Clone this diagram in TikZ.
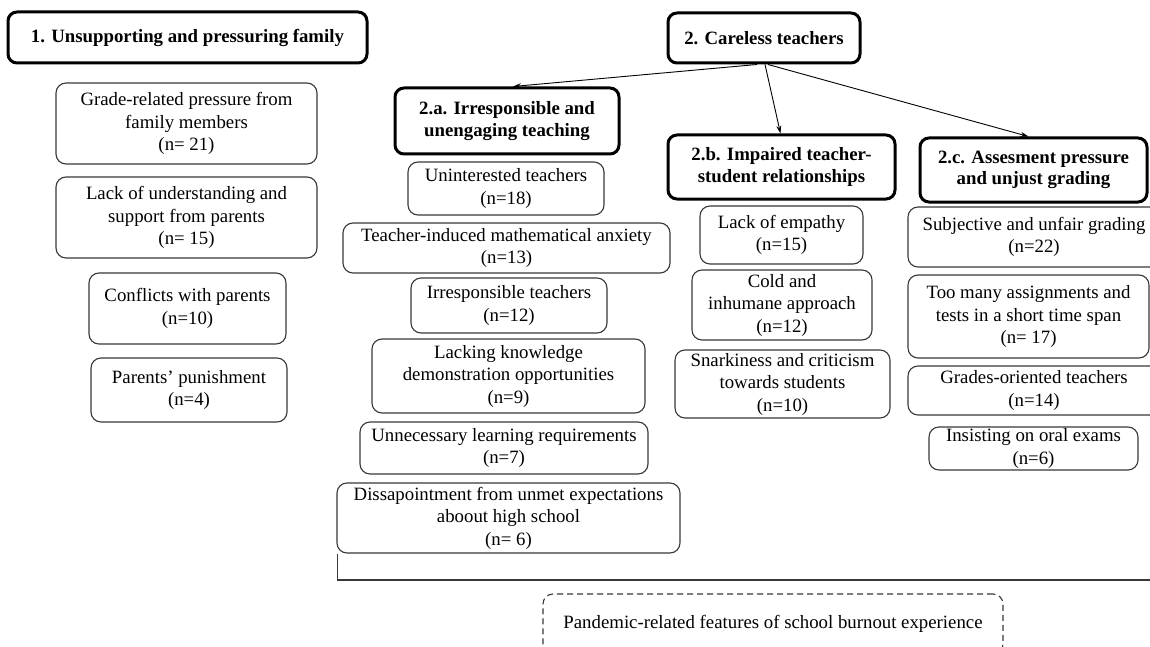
\documentclass[tikz,border=0pt]{standalone}
\usepackage{fontspec}
\setmainfont{Liberation Serif}
\usetikzlibrary{arrows.meta}
\begin{document}
\begin{tikzpicture}[x=1pt,y=-1pt,
  font=\fontsize{18.8}{22.5}\selectfont,
  box/.style={draw=black!78, line width=1.1pt, rounded corners=10pt, align=center, inner sep=0pt},
  head/.style={draw=black, line width=3pt, rounded corners=9pt, align=center, inner sep=0pt,
    font=\fontsize{18.8}{21.5}\selectfont\bfseries},
  dashbox/.style={draw=black!78, dash pattern=on 6pt off 4pt, line width=1.1pt, rounded corners=10pt, align=center, inner sep=0pt},
  arr/.style={-{Stealth[length=8pt,width=5pt]}, line width=0.9pt}]
\fill[white] (0,0) rectangle (1150,647);
\clip (0,0) rectangle (1150,647);
% headings
\node[head, minimum width=359pt, minimum height=51pt] (h1) at (187.5,37.5) {1. Unsupporting and pressuring family};
\node[head, minimum width=192pt, minimum height=50pt] (h2) at (764,38) {2. Careless teachers};
\node[head, minimum width=224pt, minimum height=66pt] (h2a) at (507,121) {2.a. Irresponsible and\\unengaging teaching};
\node[head, minimum width=227pt, minimum height=64pt] (h2b) at (781.5,167) {2.b. Impaired teacher-\\student relationships};
\node[head, minimum width=227pt, minimum height=64pt] (h2c) at (1033.5,170) {2.c. Assesment pressure\\and unjust grading};
% family column
\node[box, minimum width=261pt, minimum height=81pt] (f1) at (186.5,123.5) {Grade-related pressure from\\family members\\(n= 21)};
\node[box, minimum width=261pt, minimum height=81pt] (f2) at (186.5,217.5) {Lack of understanding and\\support from parents\\(n= 15)};
\node[box, minimum width=197pt, minimum height=71pt] (f3) at (187.5,308.5) {Conflicts with parents\\(n=10)};
\node[box, minimum width=196pt, minimum height=64pt] (f4) at (189,390) {Parents’ punishment\\(n=4)};
% 2.a column
\node[box, minimum width=196pt, minimum height=53pt] (a1) at (506,188.5) {Uninterested teachers\\(n=18)};
\node[box, minimum width=327pt, minimum height=50pt] (a2) at (506.5,248) {Teacher-induced mathematical anxiety\\(n=13)};
\node[box, minimum width=196pt, minimum height=55pt] (a3) at (509,305.5) {Irresponsible teachers\\(n=12)};
\node[box, minimum width=273pt, minimum height=74pt] (a4) at (508.5,376) {Lacking knowledge\\demonstration opportunities\\(n=9)};
\node[box, minimum width=288pt, minimum height=52pt] (a5) at (504,448) {Unnecessary learning requirements\\(n=7)};
\node[box, minimum width=343pt, minimum height=70pt] (a6) at (508.5,518) {Dissapointment from unmet expectations\\aboout high school\\(n= 6)};
% 2.b column
\node[box, minimum width=163pt, minimum height=58pt] (b1) at (781.5,235) {Lack of empathy\\(n=15)};
\node[box, minimum width=180pt, minimum height=70pt] (b2) at (782,305) {Cold and\\inhumane approach\\(n=12)};
\node[box, minimum width=215pt, minimum height=68pt] (b3) at (782.5,384) {Snarkiness and criticism\\towards students\\(n=10)};
% 2.c column
\node[box, minimum width=252pt, minimum height=60pt] (c1) at (1034,237) {Subjective and unfair grading\\(n=22)};
\node[box, minimum width=241pt, minimum height=83pt] (c2) at (1028.5,316.5) {Too many assignments and\\tests in a short time span\\(n= 17)};
\node[box, minimum width=252pt, minimum height=49pt] (c3) at (1034,390.5) {Grades-oriented teachers\\(n=14)};
\node[box, minimum width=209pt, minimum height=43pt] (c4) at (1033.5,448.5) {Insisting on oral exams\\(n=6)};
% pandemic box
\node[dashbox, minimum width=460pt, minimum height=60pt] (p) at (773,624) {Pandemic-related features of school burnout experience};
% arrows
\draw[arr] ([xshift=-7pt]h2.south) -- ([xshift=6pt]h2a.north);
\draw[arr] ([xshift=1pt]h2.south) -- ([xshift=-1pt]h2b.north);
\draw[arr] ([xshift=4pt]h2.south) -- ([xshift=-5pt]h2c.north);
% bracket
\coordinate (brE) at (1150,580);
\draw[draw=black!78, line width=1.1pt] ([xshift=1pt]a6.south west) |- (brE);
\end{tikzpicture}
\end{document}
